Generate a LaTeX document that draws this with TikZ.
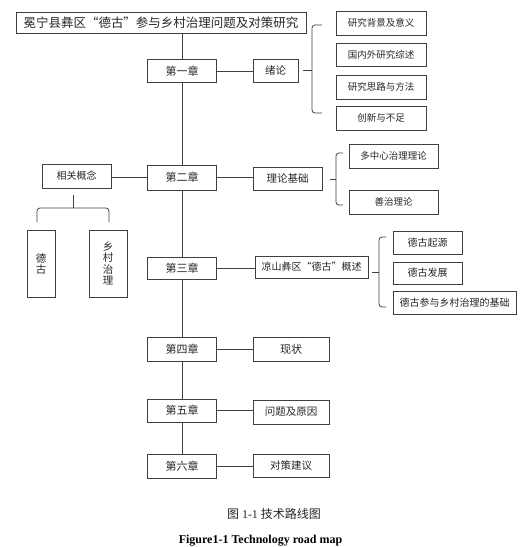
\documentclass[tikz,border=0pt]{standalone}
\usepackage{fontspec}
\setmainfont{Liberation Serif}
\newfontfamily\cjk{Noto Sans CJK SC}

\begin{document}
\begin{tikzpicture}[x=1pt,y=-1pt,line width=0.8pt,
	box/.style={draw=black!75,text=black!85,inner sep=0pt,minimum height=23pt,font=\cjk\fontsize{10}{12}\selectfont},
	chap/.style={box,minimum width=69pt,font=\cjk\fontsize{11}{13}\selectfont},
	sub/.style={box,minimum width=90pt,font=\cjk\fontsize{9.5}{12}\selectfont},
	link/.style={draw=black!75},
	brc/.style={draw=black!75,rounded corners=3pt}]
	\useasboundingbox (0,0) rectangle (529,547);
	% title
	\node[box,minimum width=290pt,minimum height=21pt,font=\cjk\fontsize{12.5}{15}\selectfont] (title) at (161,22.5) {冕宁县彝区“德古”参与乡村治理问题及对策研究};
	% chapters on the trunk
	\node[chap] (ch1) at (182,71) {第一章};
	\node[chap,minimum height=25pt] (ch2) at (182,177.5) {第二章};
	\node[chap,minimum height=22pt] (ch3) at (182,268) {第三章};
	\node[chap,minimum height=24pt] (ch4) at (182,349) {第四章};
	\node[chap] (ch5) at (182,410.5) {第五章};
	\node[chap,minimum height=24pt] (ch6) at (182,466) {第六章};
	\draw[link] (ch1.north) -- (ch1.north |- title.south);
	\draw[link] (ch1) -- (ch2);
	\draw[link] (ch2) -- (ch3);
	\draw[link] (ch3) -- (ch4);
	\draw[link] (ch4) -- (ch5);
	\draw[link] (ch5) -- (ch6);
	% chapter one
	\node[box,minimum width=45pt,font=\cjk\fontsize{10.5}{12}\selectfont] (xulun) at (275.5,70.5) {绪论};
	\draw[link] (ch1) -- (ch1 -| xulun.west);
	\node[sub,minimum height=24pt] (beijing) at (381,23) {研究背景及意义};
	\node[sub] (zongshu) at (381,54.5) {国内外研究综述};
	\node[sub,minimum height=24pt] (silu) at (381,87) {研究思路与方法};
	\node[sub,minimum height=24pt] (chuangxin) at (381,118) {创新与不足};
	\draw[brc] (322,25) -- (312,25) -- (312,113) -- (322,113);
	\draw[brc] (312,70) -- (303,70);
	% chapter two
	\node[box,minimum width=69pt,font=\cjk\fontsize{10.5}{12}\selectfont] (lilun) at (287.5,178.5) {理论基础};
	\draw[link] (ch2) -- (ch2 -| lilun.west);
	\node[sub,minimum width=89pt,minimum height=24pt] (duozx) at (393.5,156) {多中心治理理论};
	\node[sub,minimum width=89pt,minimum height=24pt] (shanzhi) at (393.5,202) {善治理论};
	\draw[brc] (343,153) -- (336,153) -- (336,205) -- (343,205);
	\draw[brc] (336,179) -- (330,179);
	\node[box,minimum width=69pt,minimum height=24pt] (gainian) at (76.5,176) {相关概念};
	\draw[link] (ch2) -- (ch2 -| gainian.east);
	\node[box,minimum width=28pt,minimum height=67pt,align=center,font=\cjk\fontsize{10.5}{11}\selectfont] (degu) at (41,263.5) {德\\古};
	\node[box,minimum width=38pt,minimum height=67pt,align=center,font=\cjk\fontsize{10.5}{11.5}\selectfont] (xiangcun) at (108,263.5) {乡\\村\\治\\理};
	\draw[brc] (37,222) -- (37,208) -- (109,208) -- (109,222);
	\draw[brc] (73,208) -- (73,195);
	% chapter three
	\node[box,minimum width=113pt,minimum height=22pt] (liangshan) at (311.5,267) {凉山彝区“德古”概述};
	\draw[link] (ch3) -- (ch3 -| liangshan.west);
	\node[box,minimum width=69pt] (qiyuan) at (427.5,242.5) {德古起源};
	\node[box,minimum width=69pt,minimum height=22pt] (fazhan) at (427.5,273) {德古发展};
	\node[box,minimum width=123pt] (jichu) at (454.5,302.5) {德古参与乡村治理的基础};
	\draw[brc] (386,237) -- (379,237) -- (379,307) -- (386,307);
	\draw[brc] (379,272) -- (372,272);
	% chapters four to six
	\node[box,minimum width=76pt,minimum height=24pt,font=\cjk\fontsize{11}{13}\selectfont] (xianzhuang) at (291,349) {现状};
	\draw[link] (ch4) -- (xianzhuang);
	\node[box,minimum width=76pt,minimum height=24pt,font=\cjk\fontsize{10.5}{13}\selectfont] (wenti) at (291,412) {问题及原因};
	\draw[link] (ch5) -- (ch5 -| wenti.west);
	\node[box,minimum width=76pt,font=\cjk\fontsize{10.5}{13}\selectfont] (duice) at (291,465.5) {对策建议};
	\draw[link] (ch6) -- (ch6 -| duice.west);
	% caption
	\node[text=black!85,font=\fontsize{12}{14}\selectfont] (capcn) at (274,514) {{\cjk 图} 1-1 {\cjk 技术路线图}};
	\node[anchor=south,inner sep=0pt,font=\bfseries\fontsize{12}{14}\selectfont] (capen) at (260.5,546.5) {Figure1-1 Technology road map};
\end{tikzpicture}
\end{document}
